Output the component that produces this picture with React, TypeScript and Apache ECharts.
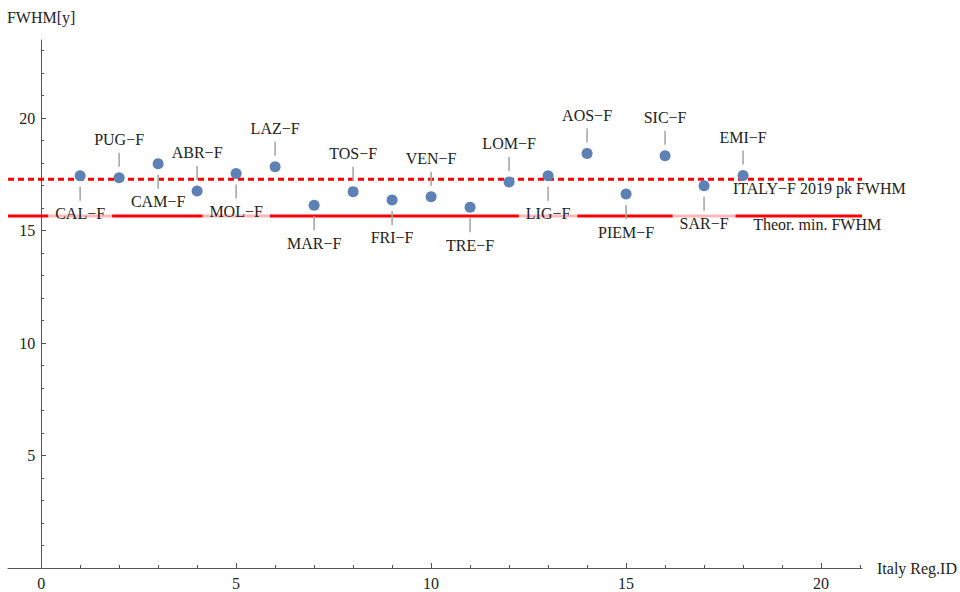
import React, { useEffect, useRef } from "react";
import * as echarts from "echarts";

// ---- data ----
const regionIds = [1, 2, 3, 4, 5, 6, 7, 8, 9, 10, 11, 12, 13, 14, 15, 16, 17, 18];
const regionNames = [
  "CAL−F", "PUG−F", "CAM−F", "ABR−F", "MOL−F", "LAZ−F", "MAR−F", "TOS−F", "FRI−F",
  "VEN−F", "TRE−F", "LOM−F", "LIG−F", "AOS−F", "PIEM−F", "SIC−F", "SAR−F", "EMI−F",
];
const fwhmValues = [
  17.44, 17.35, 17.97, 16.76, 17.54, 17.84, 16.12, 16.73, 16.36,
  16.5, 16.04, 17.16, 17.44, 18.43, 16.62, 18.32, 16.99, 17.45,
];
const labelSides = [
  "down", "up", "down", "up", "down", "up", "down", "up", "down",
  "up", "down", "up", "down", "up", "down", "up", "down", "up",
];

const refLineNames = ["ITALY−F 2019 pk FWHM", "Theor. min. FWHM"];
const refLineValues = [17.28, 15.65];
const refLabelX = [17.74, 18.26];

const X_MIN = -0.85;
const X_MAX = 21.05;
const Y_MIN = 0;
const Y_MAX = 23.47;

const xMajorTicks = [0, 5, 10, 15, 20];
const xMinorTicks = [1, 2, 3, 4, 6, 7, 8, 9, 11, 12, 13, 14, 16, 17, 18, 19, 21];
const yMajorTicks = [5, 10, 15, 20];
const yMinorTicks = [1, 2, 3, 4, 6, 7, 8, 9, 11, 12, 13, 14, 16, 17, 18, 19, 21, 22, 23];

const FONT_FAMILY = '"Liberation Serif", "DejaVu Serif", serif';
const AXIS_COLOR = "#555";
const TEXT_COLOR = "#222";
const GRID_LEFT = 8;

export default function App() {
  const ref = useRef<HTMLDivElement>(null);

  useEffect(() => {
    if (!ref.current) return;
    const chart = echarts.init(ref.current, null, { renderer: "svg" });

    const axisBase = (min: number, max: number) => ({
      type: "value" as const,
      min,
      max,
      splitLine: { show: false },
      axisLine: { show: true, onZero: false, lineStyle: { color: AXIS_COLOR, width: 1 } },
    });

    const option: any = {
      animation: false,
      backgroundColor: "#fff",
      grid: { left: GRID_LEFT, right: 98, top: 40, bottom: 24, containLabel: false, outerBoundsMode: "none" },
      xAxis: [
        {
          ...axisBase(X_MIN, X_MAX),
          position: "bottom",
          name: "Italy Reg.ID",
          nameLocation: "end",
          nameGap: 15,
          nameTextStyle: { fontFamily: FONT_FAMILY, fontSize: 16, color: TEXT_COLOR },
          axisTick: { show: true, inside: true, length: 5, customValues: xMajorTicks, lineStyle: { color: AXIS_COLOR } },
          axisLabel: {
            show: true,
            customValues: xMajorTicks,
            margin: 7,
            fontFamily: FONT_FAMILY,
            fontSize: 16,
            color: TEXT_COLOR,
          },
        },
        {
          ...axisBase(X_MIN, X_MAX),
          position: "bottom",
          axisLine: { show: false, onZero: false },
          axisTick: { show: true, inside: true, length: 3, customValues: xMinorTicks, lineStyle: { color: AXIS_COLOR } },
          axisLabel: { show: false },
        },
      ],
      yAxis: [
        {
          ...axisBase(Y_MIN, Y_MAX),
          position: "left",
          offset: 0,
          name: "FWHM[y]",
          nameLocation: "end",
          nameGap: 15,
          nameTextStyle: { fontFamily: FONT_FAMILY, fontSize: 16, color: TEXT_COLOR },
          axisTick: { show: true, inside: true, length: 5, customValues: yMajorTicks, lineStyle: { color: AXIS_COLOR } },
          axisLabel: {
            show: true,
            customValues: yMajorTicks,
            margin: 6,
            fontFamily: FONT_FAMILY,
            fontSize: 16,
            color: TEXT_COLOR,
          },
        },
        {
          ...axisBase(Y_MIN, Y_MAX),
          position: "left",
          offset: 0,
          axisLine: { show: false, onZero: false },
          axisTick: { show: true, inside: true, length: 3, customValues: yMinorTicks, lineStyle: { color: AXIS_COLOR } },
          axisLabel: { show: false },
        },
      ],
      series: [
        {
          type: "line",
          name: refLineNames[0],
          z: 2,
          showSymbol: false,
          silent: true,
          data: [
            [X_MIN, refLineValues[0]],
            [X_MAX, refLineValues[0]],
          ],
          lineStyle: { color: "#ff0000", width: 3, type: [6, 4], cap: "butt" },
        },
        {
          type: "line",
          name: refLineNames[1],
          z: 2,
          showSymbol: false,
          silent: true,
          data: [
            [X_MIN, refLineValues[1]],
            [X_MAX, refLineValues[1]],
          ],
          lineStyle: { color: "#ff0000", width: 3, type: "solid" },
        },
        {
          type: "custom",
          name: "refLabels",
          z: 3,
          clip: false,
          silent: true,
          data: refLabelX.map((x, i) => [x, refLineValues[i]]),
          renderItem: (params: any, api: any) => {
            const i = params.dataIndex;
            const p = api.coord([api.value(0), api.value(1)]);
            return {
              type: "text",
              x: p[0],
              y: p[1] + 9,
              style: {
                text: refLineNames[i],
                fill: TEXT_COLOR,
                font: `16px ${FONT_FAMILY}`,
                align: "left",
                verticalAlign: "middle",
              },
            };
          },
        },
        {
          type: "custom",
          name: "regionLabels",
          z: 3,
          clip: false,
          silent: true,
          data: regionIds.map((id, i) => [id, fwhmValues[i]]),
          renderItem: (params: any, api: any) => {
            const i = params.dataIndex;
            const p = api.coord([api.value(0), api.value(1)]);
            const s = labelSides[i] === "up" ? -1 : 1;
            return {
              type: "group",
              children: [
                {
                  type: "line",
                  shape: { x1: p[0], y1: p[1] + s * 11, x2: p[0], y2: p[1] + s * 25 },
                  style: { stroke: "#a8a8a8", lineWidth: 1.6 },
                },
                {
                  type: "text",
                  x: p[0],
                  y: p[1] + s * 38,
                  style: {
                    text: regionNames[i],
                    fill: TEXT_COLOR,
                    font: `16px ${FONT_FAMILY}`,
                    align: "center",
                    verticalAlign: "middle",
                    backgroundColor: "rgba(255,255,255,0.72)",
                    padding: [2, 7],
                  },
                },
              ],
            };
          },
        },
        {
          type: "scatter",
          name: "FWHM",
          z: 4,
          symbolSize: 11,
          itemStyle: { color: "#5E81B5", opacity: 1 },
          data: regionIds.map((id, i) => [id, fwhmValues[i]]),
        },
      ],
    };

    chart.setOption(option);
    // place the y axis at x = 0 (axes cross at the origin), using the x axis scale
    const zeroPx = chart.convertToPixel({ xAxisIndex: 0 }, 0) as number;
    const off = GRID_LEFT - zeroPx;
    chart.setOption({ yAxis: [{ offset: off }, { offset: off }] });
    return () => chart.dispose();
  }, []);

  return (
    <div
      ref={ref}
      style={{ position: "fixed", left: 0, top: 0, width: 960, height: 592, background: "#fff" }}
    />
  );
}
